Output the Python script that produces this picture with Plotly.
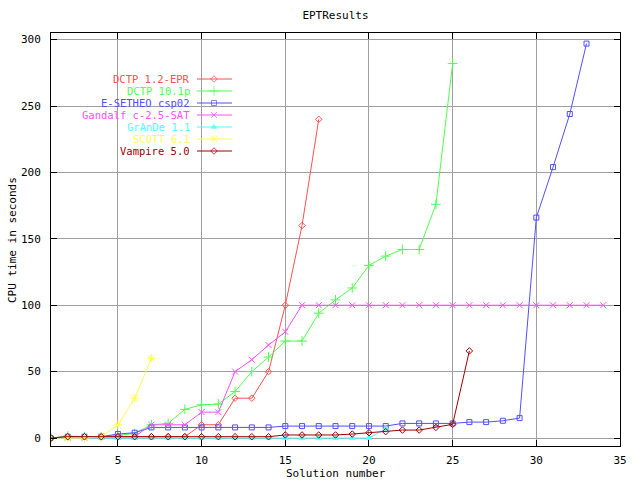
import plotly.graph_objects as go

# ---- data ----
names = ["DCTP 1.2-EPR", "DCTP 10.1p", "E-SETHEO csp02", "Gandalf c-2.5-SAT",
         "GrAnDe 1.1", "SCOTT 6.1", "Vampire 5.0"]
dctp12 = [0, 1, 1, 1, 1, 1, 1, 1, 1, 10, 10, 30, 30, 50, 100, 160, 240]
dctp10 = [0, 1.5, 1, 1, 2, 3.5, 10, 11, 21.6, 25, 25.6, 35, 50, 61, 73, 73, 94,
          104, 113, 130, 137, 142, 142, 176, 282]
esetheo = [0, 1, 1, 1, 3, 4, 8, 8, 8, 8, 8, 8, 8, 8, 9, 9, 9, 9, 9, 9, 9,
           11, 11, 11, 11, 12, 12, 13, 15, 166, 204, 244, 297]
gandalf = [0, 0, 0, 1, 1, 1, 10, 10, 10, 19.5, 19.5, 50, 59, 70, 80,
           100, 100, 100, 100, 100, 100, 100, 100, 100, 100, 100, 100, 100,
           100, 100, 100, 100, 100, 100]
grande = [0, 0, 0, 0, 0, 0, 0, 0, 0, 0, 0, 0, 0, 0, 0, 0, 0, 0, 0, 0, 7]
scott = [0, 0, 0, 1, 10, 30, 60]
vampire = [0, 1, 1, 1, 1, 1, 1, 1, 1, 1, 1, 1, 1, 1, 2.3, 2.3, 2.3, 2.3, 3,
           4, 4.8, 6, 6, 8, 10.3, 65.6]
series = [dctp12, dctp10, esetheo, gandalf, grande, scott, vampire]

colors = ["#ff5050", "#50ff50", "#5050ff", "#ff50ff", "#50ffff", "#ffff50", "#a00000"]
symbols = ["diamond-open", "cross-thin-open", "square-open", "x-thin-open",
           "triangle-up", "asterisk-open", "diamond-open"]
msizes = [5, 7, 5, 6, 5, 7, 5]

FONT = "DejaVu Sans Mono"
W, H = 640, 480
L, R, T, B = 51, 20, 33, 34

fig = go.Figure()
for name, ys, c, s, ms in zip(names, series, colors, symbols, msizes):
    fig.add_trace(go.Scatter(
        x=list(range(1, len(ys) + 1)), y=ys, name=name, mode="lines+markers",
        line=dict(color=c, width=1),
        marker=dict(symbol=s, size=ms, color=c, line=dict(color=c, width=1)),
        showlegend=False))

# ---- gnuplot-style key (text left of sample) ----
def px(X):
    return (X - L) / (W - L - R)

def py(Y):
    return (H - B - Y) / (H - T - B)

row_y = [79, 91, 103, 115, 127, 139, 151]
for name, c, s, ms, Y in zip(names, colors, symbols, msizes, row_y):
    fig.add_annotation(x=px(191), y=py(Y), xref="paper", yref="paper",
                       text=name, showarrow=False, xanchor="right", yanchor="middle",
                       borderpad=0,
                       font=dict(family=FONT, size=10.5, color=c))
    fig.add_trace(go.Scatter(
        x=[px(197), px(214), px(232)], y=[py(Y)] * 3, xaxis="x2", yaxis="y2",
        mode="lines+markers", line=dict(color=c, width=1),
        marker=dict(symbol=s, size=[0, ms, 0], color=c, line=dict(color=c, width=1)),
        showlegend=False, hoverinfo="skip"))

fig.add_shape(type="rect", xref="paper", yref="paper",
              x0=px(68), x1=px(236), y0=py(156), y1=py(70),
              fillcolor="white", line=dict(width=0), layer="between")

fig.update_layout(
    width=W, height=H,
    margin=dict(l=L, r=R, t=T, b=B),
    paper_bgcolor="white", plot_bgcolor="white",
    font=dict(family=FONT, size=11, color="black"),
    title=dict(text="EPTResults", x=0.5, xref="paper", y=1 - 15 / H,
               yref="container", xanchor="center", yanchor="middle",
               font=dict(family=FONT, size=11, color="black")),
    xaxis=dict(range=[1, 35], tickvals=[5, 10, 15, 20, 25, 30, 35],
               showgrid=True, gridcolor="#a0a0a0", gridwidth=1,
               zeroline=False, showline=True, linecolor="black", linewidth=1,
               mirror="allticks", ticks="inside", ticklen=6, tickcolor="black",
               ticklabelstandoff=4),
    yaxis=dict(range=[-6, 305], tickvals=[0, 50, 100, 150, 200, 250, 300],
               showgrid=True, gridcolor="#a0a0a0", gridwidth=1,
               zeroline=False, showline=True, linecolor="black", linewidth=1,
               mirror="allticks", ticks="inside", ticklen=6, tickcolor="black",
               ticklabelstandoff=7),
    xaxis2=dict(overlaying="x", range=[0, 1], visible=False, fixedrange=True),
    yaxis2=dict(overlaying="y", range=[0, 1], visible=False, fixedrange=True),
    annotations=list(fig.layout.annotations) + [
        dict(text="Solution number", x=0.5, y=py(473.5), xref="paper", yref="paper",
             showarrow=False, xanchor="center", yanchor="middle", borderpad=0,
             font=dict(family=FONT, size=11, color="black")),
        dict(text="CPU time in seconds", x=px(12), y=py(240), xref="paper",
             yref="paper", textangle=-90, showarrow=False, xanchor="center",
             yanchor="middle", font=dict(family=FONT, size=11, color="black")),
    ],
)

fig.write_html("out.html", config={"displayModeBar": False},
               post_script="document.body.style.margin='0';"
                           "document.body.style.overflow='hidden';")
